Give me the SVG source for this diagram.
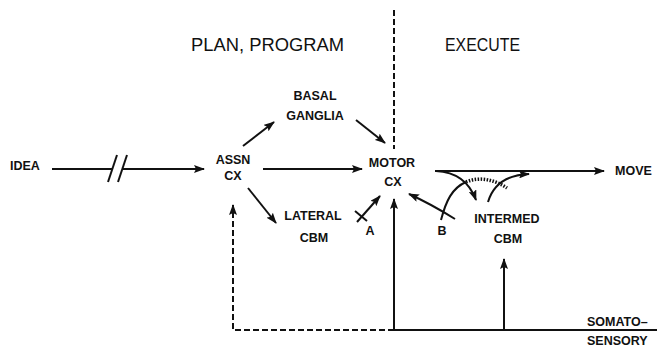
<svg xmlns="http://www.w3.org/2000/svg" width="657" height="347" viewBox="0 0 657 347">
<style>
text{font-family:"Liberation Sans",Arial,sans-serif;font-weight:bold;fill:#111;}
.t{font-size:18px;font-weight:normal;}
.l{font-size:12.5px;}
.ln{stroke:#111;stroke-width:2;fill:none;}
.ar{marker-end:url(#ah);}
.ds{stroke-dasharray:6,3;}
.dt{stroke-dasharray:1.5,1.5;stroke-width:3.5;}
</style>
<defs>
<marker id="ah" markerUnits="userSpaceOnUse" markerWidth="11" markerHeight="8" refX="10" refY="4" orient="auto">
<path d="M0,0 L11,4 L0,8 L2,4 z" fill="#111"/>
</marker>
</defs>
<rect width="657" height="347" fill="#fff"/>
<g id="titles">
<text class="t" x="191" y="51" textLength="153" lengthAdjust="spacingAndGlyphs">PLAN, PROGRAM</text>
<text class="t" x="445" y="51" textLength="75" lengthAdjust="spacingAndGlyphs">EXECUTE</text>
</g>
<g id="idea"><text class="l" x="10" y="170">IDEA</text></g>
<g id="assn"><text class="l" x="233" y="164" text-anchor="middle">ASSN</text><text class="l" x="233" y="180" text-anchor="middle">CX</text></g>
<g id="basal"><text class="l" x="315" y="100" text-anchor="middle">BASAL</text><text class="l" x="315" y="120" text-anchor="middle">GANGLIA</text></g>
<g id="lateral"><text class="l" x="313" y="220" text-anchor="middle">LATERAL</text><text class="l" x="314" y="242" text-anchor="middle">CBM</text></g>
<g id="motor"><text class="l" x="392" y="167" text-anchor="middle">MOTOR</text><text class="l" x="393" y="186" text-anchor="middle">CX</text></g>
<g id="move"><text class="l" x="615" y="175">MOVE</text></g>
<g id="intermed"><text class="l" x="507" y="223" text-anchor="middle">INTERMED</text><text class="l" x="508" y="243" text-anchor="middle">CBM</text></g>
<g id="somato"><text class="l" x="587" y="326">SOMATO–</text><text class="l" x="587" y="345">SENSORY</text></g>
<g id="labels"><text class="l" x="370" y="235" text-anchor="middle">A</text><text class="l" x="442" y="235" text-anchor="middle">B</text></g>
<g id="connectors">
<line class="ln ds" x1="394" y1="10" x2="394" y2="149"/>
<line class="ln" x1="52" y1="169" x2="112" y2="169"/>
<line class="ln" x1="108" y1="182" x2="117" y2="155"/>
<line class="ln" x1="118" y1="182" x2="127" y2="155"/>
<line class="ln ar" x1="122" y1="169" x2="204" y2="169"/>
<line class="ln ar" x1="243" y1="146" x2="274" y2="122"/>
<line class="ln ar" x1="356" y1="120" x2="385" y2="143"/>
<line class="ln ar" x1="263" y1="169" x2="362" y2="169"/>
<line class="ln ar" x1="248" y1="188" x2="276" y2="223"/>
<line class="ln ar" x1="357" y1="222" x2="380" y2="196"/>
<line class="ln" x1="355" y1="211" x2="367" y2="221"/>
<line class="ln ar" x1="394" y1="330" x2="394" y2="199"/>
<line class="ln ar" x1="504" y1="330" x2="504" y2="259"/>
<line class="ln" x1="394" y1="330" x2="657" y2="330"/>
<path class="ln ds" d="M394,330 H233 V270"/>
<line class="ln ds ar" x1="233" y1="272" x2="233" y2="205"/>
<line class="ln ar" x1="435" y1="171" x2="604" y2="171"/>
<path class="ln ar" d="M436,171 C456,172 469,181 476,200"/>
<path class="ln ar" d="M455,219 Q431,204 409,194"/>
<path class="ln" d="M441,220 C446,201 452,188 466,182"/>
<path class="ln dt" d="M466,182 C480,176 495,180 507,188"/>
<path class="ln ar" d="M488,202 C493,185 505,175 529,174"/>
</g>
</svg>
